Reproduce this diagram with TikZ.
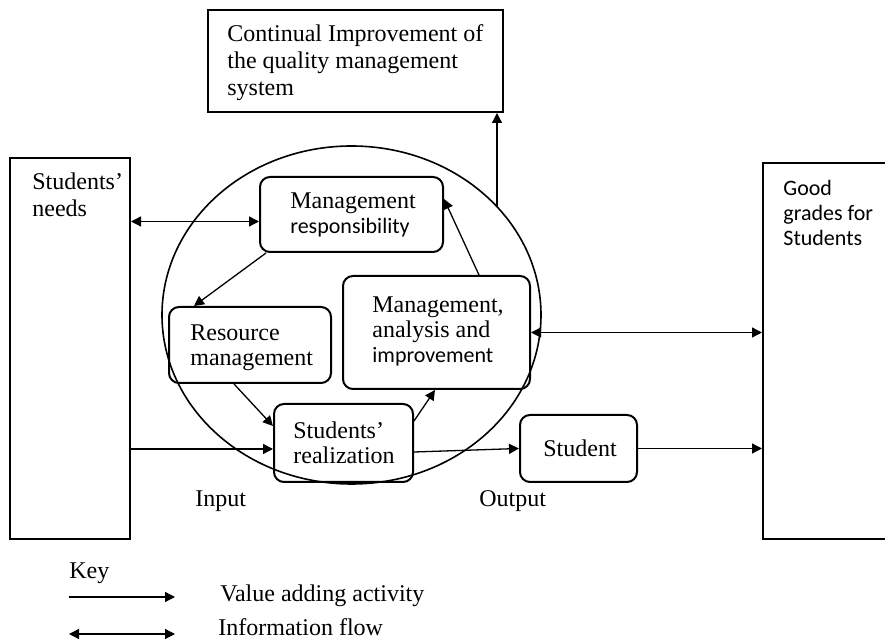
\documentclass[tikz,border=0pt]{standalone}
\usepackage{fontspec}
\setmainfont{Liberation Serif}
\newfontfamily\calib{Carlito}
\usetikzlibrary{arrows.meta,shapes.geometric,fit,calc}
\newcommand{\cfont}{\calib\fontsize{11}{12.5}\selectfont}
\begin{document}
\begin{tikzpicture}[x=0.5pt,y=-0.5pt,
  font=\fontsize{12}{13.5}\selectfont,
  sqbox/.style={draw, line width=1pt, inner sep=0pt},
  rbox/.style={draw, line width=1pt, rounded corners=5pt, inner sep=0pt},
  txt/.style={align=left, inner sep=0pt, anchor=north west},
  btxt/.style={align=left, inner sep=0pt, anchor=north west, font=\fontsize{12}{12.5}\selectfont},
  ltxt/.style={inner sep=0pt, anchor=base west},
  flow/.style={line width=0.65pt, -{Triangle[length=5pt,width=5pt]}},
  info/.style={line width=0.65pt, {Triangle[length=5pt,width=5pt]}-{Triangle[length=5pt,width=5pt]}},
  cal/.style={font=\cfont}
]
\useasboundingbox (0,0) rectangle (885,640);

% square boxes
\node[sqbox, fit={(208,10) (503,112)}] (top) {};
\node[txt] (toptxt) at (227,24) {Continual Improvement of\\the quality management\\system};
\node[sqbox, fit={(10,158) (130,539)}] (L) {};
\node[txt] (Ltxt) at (32,172) {Students’\\needs};
\node[sqbox, fit={(763,163) (900,539)}] (R) {};
\node[txt, cal] (Rtxt) at (783,180) {Good\\grades for\\Students};

% rounded boxes
\node[rbox, fit={(260,177) (443,252)}] (MR) {};
\node[btxt] (MRt) at (290,192) {Management\\{\cfont responsibility}};
\node[rbox, fit={(169,307) (331,383)}] (RM) {};
\node[btxt] (RMt) at (190,324) {Resource\\management};
\node[rbox, fit={(343,276) (530,389)}] (MAI) {};
\node[btxt] (MAIt) at (372,296) {Management,\\analysis and\\{\cfont improvement}};
\node[rbox, fit={(274,404) (413,482)}] (SR) {};
\node[btxt] (SRt) at (293,421) {Students’\\realization};
\node[rbox, fit={(520,415) (637,482)}] (St) {};
\node[btxt] (Stt) at (543,439) {Student};

% ellipse
\node[draw, ellipse, line width=0.8pt, inner sep=0pt, minimum width=379*0.5pt, minimum height=338*0.5pt] (ell) at (351.5,315) {};

% connectors
\coordinate (e1) at (497,207);
\draw[flow] (e1) -- (e1 |- top.south);
\draw[info] ($(MR.west)+(0,7)$) coordinate (a1) -- (a1 -| L.east);
\draw[flow] ($(MR.south west)+(7,0)$) -- ($(RM.north west)+(26,0)$);
\draw[flow] ($(RM.south west)+(66,0)$) -- ($(SR.north west)+(0,23)$);
\draw[flow] ($(SR.north east)+(0,18)$) -- ($(MAI.south west)+(93,0)$);
\draw[flow] ($(MAI.north west)+(137,0)$) -- ($(MR.north east)+(0,23)$);
\coordinate (a2) at ($(SR.west)+(0,6)$);
\draw[flow] (a2 -| L.east) -- (a2);
\draw[flow] ($(SR.east)+(0,9)$) -- (St.west);
\draw[flow] (St.east) -- (St.east -| R.west);
\draw[info] (MAI.east) -- (MAI.east -| R.west);

% labels
\node[ltxt] (inp) at (195,507) {Input};
\node[ltxt] (outp) at (479,507) {Output};

% key
\node[ltxt] (key) at (69,579) {Key};
\coordinate (k1) at (69,597);
\coordinate (k2) at (175,597);
\coordinate (k3) at (69,634);
\coordinate (k4) at (175,634);
\draw[flow] (k1) -- (k2);
\draw[info] (k3) -- (k4);
\node[ltxt] (k1t) at (220,602) {Value adding activity};
\node[ltxt] (k2t) at (218,636) {Information flow};
\end{tikzpicture}
\end{document}
